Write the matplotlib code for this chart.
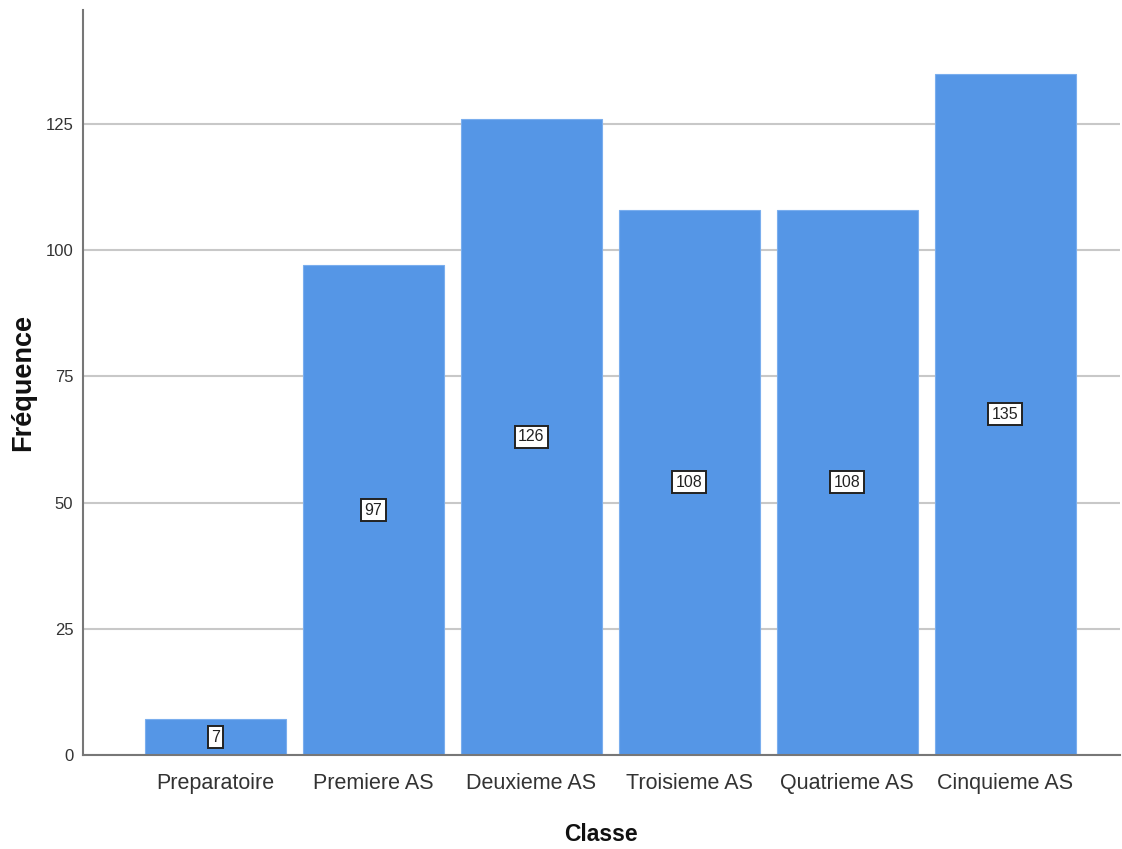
import matplotlib.pyplot as plt

# Effectifs par classe
classes = ['Preparatoire', 'Premiere AS', 'Deuxieme AS', 'Troisieme AS',
           'Quatrieme AS', 'Cinquieme AS']
frequences = [7, 97, 126, 108, 108, 135]
yticks = [0, 25, 50, 75, 100, 125]

plt.rcParams['font.family'] = ['Liberation Sans', 'DejaVu Sans']

fig = plt.figure(figsize=(11.22, 8.49), dpi=100)
ax = fig.add_axes([0.074, 0.111, 0.924, 0.877])

x = list(range(len(classes)))
ax.bar(x, frequences, width=0.892, color='#5596e6', edgecolor='#7aaeee',
       linewidth=0.8, zorder=2)

# Etiquettes de valeur au milieu de chaque barre
for xi, val in zip(x, frequences):
    ax.text(xi, val / 2, str(val), ha='center', va='center', fontsize=11.5,
            color='#222222', zorder=3,
            bbox=dict(boxstyle='square,pad=0.22', facecolor='white',
                      edgecolor='#222222', linewidth=1.4))

ax.set_xlim(-0.839, 5.725)
ax.set_ylim(0, 147.6)
ax.set_xticks(x)
ax.set_xticklabels(classes, fontsize=15.5, color='#333333')
ax.set_yticks(yticks)
ax.set_yticklabels([str(t) for t in yticks], fontsize=12, color='#333333')
ax.tick_params(length=0)
ax.tick_params(axis='x', pad=13)
ax.tick_params(axis='y', pad=7)

ax.yaxis.grid(True, color='#c8c8c8', linewidth=1.5, zorder=0)
ax.set_axisbelow(True)

for side in ['top', 'right']:
    ax.spines[side].set_visible(False)
for side in ['left', 'bottom']:
    ax.spines[side].set_color('#777777')
    ax.spines[side].set_linewidth(1.5)

ax.set_xlabel('Classe', fontsize=16.5, fontweight='bold', color='#111111', labelpad=21)
ax.set_ylabel('Fréquence', fontsize=19.5, fontweight='bold', color='#111111', labelpad=7)

fig.savefig('out.png', dpi=100)
